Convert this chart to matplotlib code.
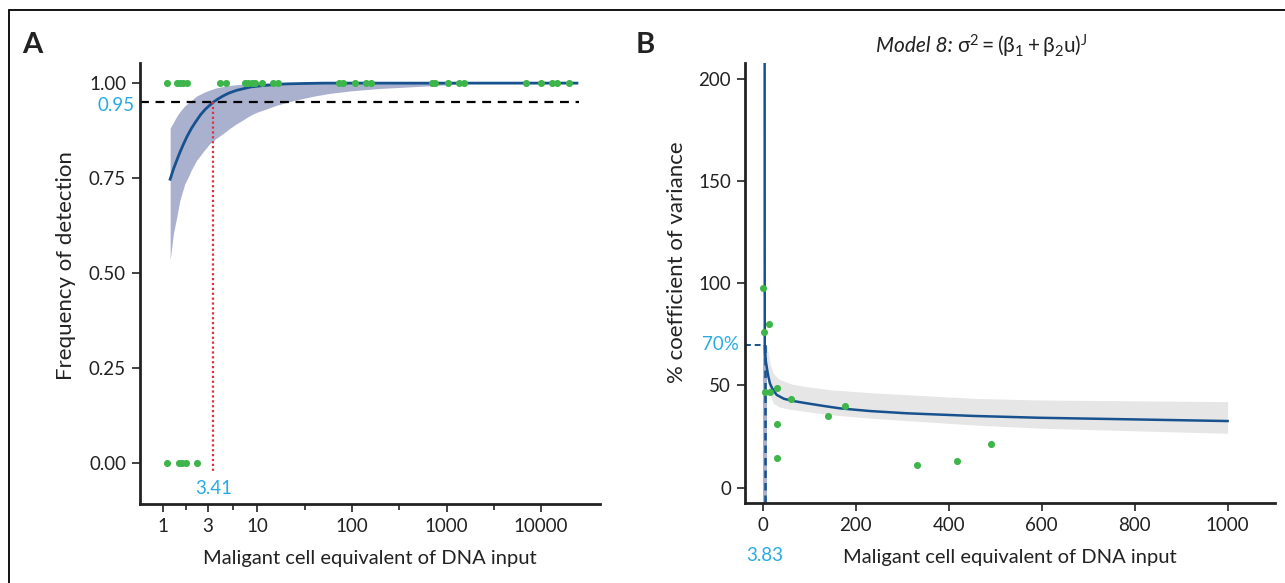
#%% Imports
import matplotlib
matplotlib.use('Agg')
import matplotlib.pyplot as plt
from matplotlib.patches import Rectangle
import numpy as np

#%% Data
# panel A: detected (1) / not detected (0) replicates
a_hit_x = [1.09, 1.40, 1.51, 1.64, 1.78, 4.0, 4.6, 7.4, 8.0, 8.7, 9.4, 11.2, 14.5, 16.4,
           73, 80, 108, 141, 158, 697, 755, 1045, 1356, 1531, 6940, 10000, 12980, 14660, 19950]
a_miss_x = [1.09, 1.49, 1.58, 1.75, 2.31]

# fitted detection curve and band
a_fit_x = [1.19, 1.3, 1.4, 1.5, 1.65, 1.8, 2, 2.2, 2.5, 2.8, 3.1, 3.41, 3.8, 4.3, 5, 6, 7,
           8.5, 10, 12, 15, 20, 30, 50, 24000]
a_fit_y = [0.747, 0.776, 0.797, 0.816, 0.840, 0.860, 0.881, 0.897, 0.917, 0.931, 0.941,
           0.950, 0.958, 0.966, 0.974, 0.981, 0.985, 0.990, 0.992, 0.994, 0.996, 0.998,
           0.999, 1.0, 1.0]
a_band_x = [1.19, 1.29, 1.4, 1.51, 1.7, 1.85, 2, 2.27, 2.67, 3.14, 3.6, 4.3, 5.1, 6, 7, 8,
            9, 10, 11.5, 16, 25, 40, 58, 100, 200, 400, 667, 1200, 1900, 24000]
a_band_lo = [0.534, 0.605, 0.648, 0.692, 0.735, 0.753, 0.772, 0.797, 0.82, 0.841, 0.853,
             0.867, 0.881, 0.893, 0.903, 0.912, 0.919, 0.924, 0.929, 0.942, 0.955, 0.966,
             0.973, 0.98, 0.986, 0.99, 0.993, 0.997, 1.0, 1.0]
a_band_hi = [0.881, 0.897, 0.913, 0.925, 0.940, 0.948, 0.955, 0.966, 0.975, 0.982, 0.987,
             0.991, 0.994, 0.996, 0.997, 0.998, 0.999, 0.999, 1.0, 1.0, 1.0, 1.0, 1.0, 1.0,
             1.0, 1.0, 1.0, 1.0, 1.0, 1.0]
lod_freq = 0.95
lod_x = 3.41

# panel B: CV vs input
b_pts_x = [0.6, 13, 2.8, 5, 15, 29.5, 60, 140, 177, 30, 30, 332, 417, 490]
b_pts_y = [97.8, 80.1, 76, 47, 46.7, 48.6, 43.4, 35.1, 40, 31, 14.4, 11.1, 13.1, 21.5]

b_fit_x = [3.6, 3.7, 3.83, 4.5, 6, 8, 11, 15, 20, 29.5, 45, 65, 94, 130, 166, 230, 309,
           453, 596, 800, 1000]
b_fit_y = [215, 125, 70, 66, 62, 59.2, 55, 51, 48.5, 45.4, 43.5, 42.4, 41.3, 40, 38.8,
           37.5, 36.4, 35.1, 34.2, 33.4, 32.6]
b_band_x = [4, 6, 8, 11.4, 16, 22, 35, 60, 94, 150, 237, 453, 596, 1000]
b_band_lo = [68, 62, 56, 50, 45, 41.3, 39.5, 38.3, 37.2, 35.6, 33.9, 30.7, 29.1, 26.6]
b_band_hi = [70, 70, 69.5, 66, 60, 56, 53, 50.8, 49.4, 47.8, 46.4, 43.7, 42.9, 42.1]
cv_limit = 70
cv_x = 3.83

#%% Styles
navy = '#17528f'
green = '#3db54a'
cyan = '#29abe2'
lav = '#aab1cf'
ink = '#222222'
plt.rcParams['font.family'] = ['Lato', 'DejaVu Sans']
plt.rcParams['mathtext.fontset'] = 'custom'
plt.rcParams['mathtext.rm'] = 'Lato'
plt.rcParams['mathtext.it'] = 'Lato:italic'

fig = plt.figure(figsize=(12.85, 5.83), dpi=100)
fig.patches.append(Rectangle((9/1285, -0.1), 1.2, 1.1 - 10/583,
                             transform=fig.transFigure, fill=False,
                             edgecolor='black', linewidth=1.3))

def style_axes(ax):
    for s in ['top', 'right']:
        ax.spines[s].set_visible(False)
    for s in ['left', 'bottom']:
        ax.spines[s].set_linewidth(2)
        ax.spines[s].set_color(ink)
    ax.tick_params(direction='out', length=6, width=1.2, labelsize=13.5,
                   colors=ink, pad=4)

#%% Panel A
ax = fig.add_axes([140/1285, 1 - 504/583, 460/1285, 441/583])
style_axes(ax)
ax.set_xscale('log')
ax.fill_between(a_band_x, a_band_lo, a_band_hi, color=lav, linewidth=0)
ax.plot(a_fit_x, a_fit_y, color=navy, linewidth=2)
ax.plot([0.571, 25000], [lod_freq, lod_freq], color='black', linestyle=(0, (4, 3)), linewidth=1.6)
ax.plot([lod_x, lod_x], [lod_freq, -0.02], color='#e0303f', linestyle=(0, (1, 1.2)), linewidth=1.6)
ax.scatter(a_hit_x, [1] * len(a_hit_x), s=26, color=green, zorder=5, linewidths=0)
ax.scatter(a_miss_x, [0] * len(a_miss_x), s=26, color=green, zorder=5, linewidths=0)
ax.set_xlim(0.571, 42100)
ax.set_ylim(-0.108, 1.053)
majors = [1, 3, 10, 100, 1000, 10000]
ax.set_xticks(majors)
ax.set_xticklabels([str(m) for m in majors])
mids = [10 ** ((np.log10(a) + np.log10(b)) / 2) for a, b in zip(majors[:-1], majors[1:])]
ax.set_xticks(mids, minor=True)
ax.tick_params(axis='x', which='minor', length=4, width=1.2, colors=ink)
ax.set_yticks([0, 0.25, 0.5, 0.75, 1.0])
ax.set_yticklabels(['0.00', '0.25', '0.50', '0.75', '1.00'])
ax.set_xlabel('Maligant cell equivalent of DNA input', fontsize=14.5, color=ink, labelpad=11)
ax.set_ylabel('Frequency of detection', fontsize=16, color=ink)
ax.yaxis.set_label_coords(-0.14, 0.54)
ax.text(-0.012, lod_freq - 0.01, '0.95', transform=ax.get_yaxis_transform(), ha='right',
        va='center', color=cyan, fontsize=13.5)
ax.text(lod_x, -0.045, '3.41', ha='center', va='top', color=cyan, fontsize=13.5)

#%% Panel B
bx = fig.add_axes([745/1285, 1 - 503/583, 530/1285, 440/583])
style_axes(bx)
bx.fill_between(b_band_x, b_band_lo, b_band_hi, color='#e6e6e6', linewidth=0)
bx.fill_betweenx([-10, cv_limit], 0, 8, color=lav, linewidth=0)
bx.plot(b_fit_x, b_fit_y, color=navy, linewidth=1.8)
bx.plot([-38.7, cv_x], [cv_limit, cv_limit], color=navy, linestyle=(0, (3, 2)), linewidth=1.4)
bx.plot([cv_x, cv_x], [cv_limit, -10], color=navy, linestyle=(0, (3, 2)), linewidth=1.8)
bx.scatter(b_pts_x, b_pts_y, s=26, color=green, zorder=5, linewidths=0)
bx.set_xlim(-38.7, 1102)
bx.set_ylim(-7.5, 207.8)
bx.set_xticks([0, 200, 400, 600, 800, 1000])
bx.set_yticks([0, 50, 100, 150, 200])
bx.set_xlabel('Maligant cell equivalent of DNA input', fontsize=14.5, color=ink, labelpad=11)
bx.set_ylabel('% coefficient of variance', fontsize=16, color=ink)
bx.yaxis.set_label_coords(-0.11, 0.548)
bx.text(-0.012, cv_limit, '70%', transform=bx.get_yaxis_transform(), ha='right',
        va='center', color=cyan, fontsize=13.5)
bx.text(cv_x, -0.1, '3.83', transform=bx.get_xaxis_transform(), ha='center',
        va='top', color=cyan, fontsize=13.5)

#%% Titles and panel letters
fig.text(953/1285, 1 - 46/583, 'Model 8:', style='italic', ha='right', va='center',
         fontsize=15, color=ink)
fig.text(957/1285, 1 - 46/583, r'$\mathrm{\sigma^2 = (\beta_1 + \beta_2 u)^J}$',
         ha='left', va='center', fontsize=15, color=ink)
fig.text(22/1285, 1 - 45/583, 'A', fontsize=21, fontweight='bold', va='center', color=ink)
fig.text(636/1285, 1 - 45/583, 'B', fontsize=21, fontweight='bold', va='center', color=ink)

fig.savefig('out.png', dpi=100)
